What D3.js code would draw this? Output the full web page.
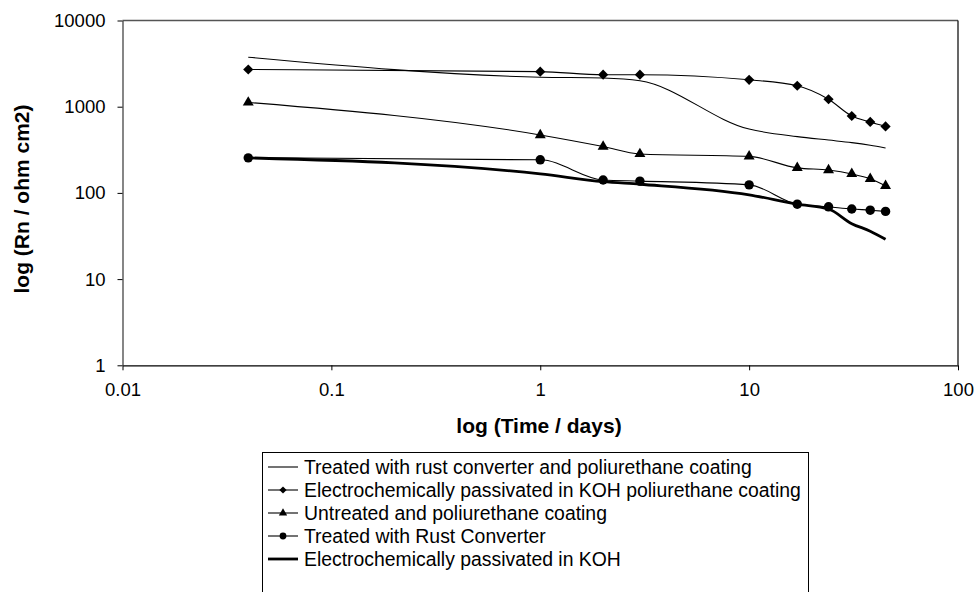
<!DOCTYPE html>
<html>
<head>
<meta charset="utf-8">
<script src="https://cdn.jsdelivr.net/npm/d3@7"></script>
<style>
  body { margin: 0; background: #fff; }
  svg { font-family: "Liberation Sans", Arial, sans-serif; }
</style>
</head>
<body>
<svg id="chart" width="976" height="592"></svg>
<script>
// time in days (x) and polarisation resistance (y)
const times = [0.04, 1, 2, 3, 10, 17, 24, 31, 38, 45];
const rustConverterPU = [3750, 2200, 2150, 2000, 550, 450, 410, 383, 357, 332];
const kohPU = [2700, 2550, 2350, 2350, 2050, 1750, 1220, 780, 665, 590];
const untreatedPU = [1120, 470, 345, 283, 265, 195, 184, 166, 146, 121];
const rustConverter = [255, 242, 141, 137, 124, 74, 69, 65, 63, 61];
const koh = [255, 166, 135, 126, 95, 74, 65, 44, 36, 29];

const xTicks = [0.01, 0.1, 1, 10, 100];
const yTicks = [1, 10, 100, 1000, 10000];

const seriesNames = [
  "Treated with rust converter and poliurethane coating",
  "Electrochemically passivated in KOH poliurethane coating",
  "Untreated and poliurethane coating",
  "Treated with Rust Converter",
  "Electrochemically passivated in KOH"
];

// marker: symbol type, size on the plot, size in the legend, rotation
const series = [
  { name: seriesNames[0], values: rustConverterPU, marker: null, width: 1.1 },
  { name: seriesNames[1], values: kohPU, marker: { type: d3.symbolSquare, size: 52, legendSize: 26, rot: 45 }, width: 1.1 },
  { name: seriesNames[2], values: untreatedPU, marker: { type: d3.symbolTriangle, size: 52, legendSize: 30, rot: 0 }, width: 1.1 },
  { name: seriesNames[3], values: rustConverter, marker: { type: d3.symbolCircle, size: 70, legendSize: 36, rot: 0 }, width: 1.1 },
  { name: seriesNames[4], values: koh, marker: null, width: 2.8 }
];

const svg = d3.select("#chart");
const plotL = 122.5, plotR = 958, plotT = 20.5, plotB = 365.3;

const x = d3.scaleLog().domain([0.01, 100]).range([plotL, plotR]);
const y = d3.scaleLog().domain([1, 10000]).range([plotB, plotT]);

// frame: top / right lines of the plot area
svg.append("line").attr("x1", plotL).attr("x2", plotR).attr("y1", plotT).attr("y2", plotT)
  .attr("stroke", "#555").attr("stroke-width", 1.6);
svg.append("line").attr("x1", plotR).attr("x2", plotR).attr("y1", plotT).attr("y2", plotB)
  .attr("stroke", "#000").attr("stroke-width", 1.2);

// x axis
const xAxis = svg.append("g")
  .attr("transform", `translate(0,${plotB})`)
  .call(d3.axisBottom(x).tickValues(xTicks).tickFormat(d => String(d))
    .tickSize(5).tickSizeOuter(0).tickPadding(13));
xAxis.select(".domain").attr("stroke", "#000").attr("stroke-width", 1.3);
xAxis.selectAll("text").attr("font-size", 18.5).attr("fill", "#000");

// y axis
const yAxis = svg.append("g")
  .attr("transform", `translate(${plotL},0)`)
  .call(d3.axisLeft(y).tickValues(yTicks).tickFormat(d => String(d))
    .tickSize(5).tickSizeOuter(0).tickPadding(12));
yAxis.select(".domain").attr("stroke", "#444").attr("stroke-width", 1.3);
yAxis.selectAll("text").attr("font-size", 18.5).attr("fill", "#000");

// axis titles
svg.append("text").attr("x", 539).attr("y", 433).attr("text-anchor", "middle")
  .attr("font-size", 21).attr("font-weight", "bold").text("log (Time / days)");
svg.append("text").attr("transform", "translate(29,199) rotate(-90)").attr("text-anchor", "middle")
  .attr("font-size", 21).attr("font-weight", "bold").text("log (Rn / ohm cm2)");

// lines
const line = d3.line()
  .x((d, i) => x(times[i]))
  .y(d => y(d))
  .curve(d3.curveMonotoneX);

const g = svg.append("g");
series.forEach(s => {
  g.append("path")
    .attr("d", line(s.values))
    .attr("fill", "none")
    .attr("stroke", "#000")
    .attr("stroke-width", s.width);
  if (s.marker) {
    g.selectAll(null)
      .data(s.values)
      .join("path")
      .attr("transform", (d, i) => `translate(${x(times[i])},${y(d)}) rotate(${s.marker.rot})`)
      .attr("d", d3.symbol(s.marker.type, s.marker.size))
      .attr("fill", "#000");
  }
});

// legend
const legend = svg.append("g");
legend.append("rect").attr("x", 262.5).attr("y", 452.5).attr("width", 546).attr("height", 160)
  .attr("fill", "#fff").attr("stroke", "#000").attr("stroke-width", 1);
series.forEach((s, i) => {
  const ly = 467 + i * 23;
  legend.append("line").attr("x1", 268).attr("x2", 298).attr("y1", ly).attr("y2", ly)
    .attr("stroke", "#000").attr("stroke-width", s.width);
  if (s.marker) {
    legend.append("path").attr("transform", `translate(283,${ly}) rotate(${s.marker.rot})`)
      .attr("d", d3.symbol(s.marker.type, s.marker.legendSize)).attr("fill", "#000");
  }
  legend.append("text").attr("x", 304).attr("y", ly).attr("dy", "0.36em")
    .attr("font-size", 19.4).text(s.name);
});
</script>
</body>
</html>
